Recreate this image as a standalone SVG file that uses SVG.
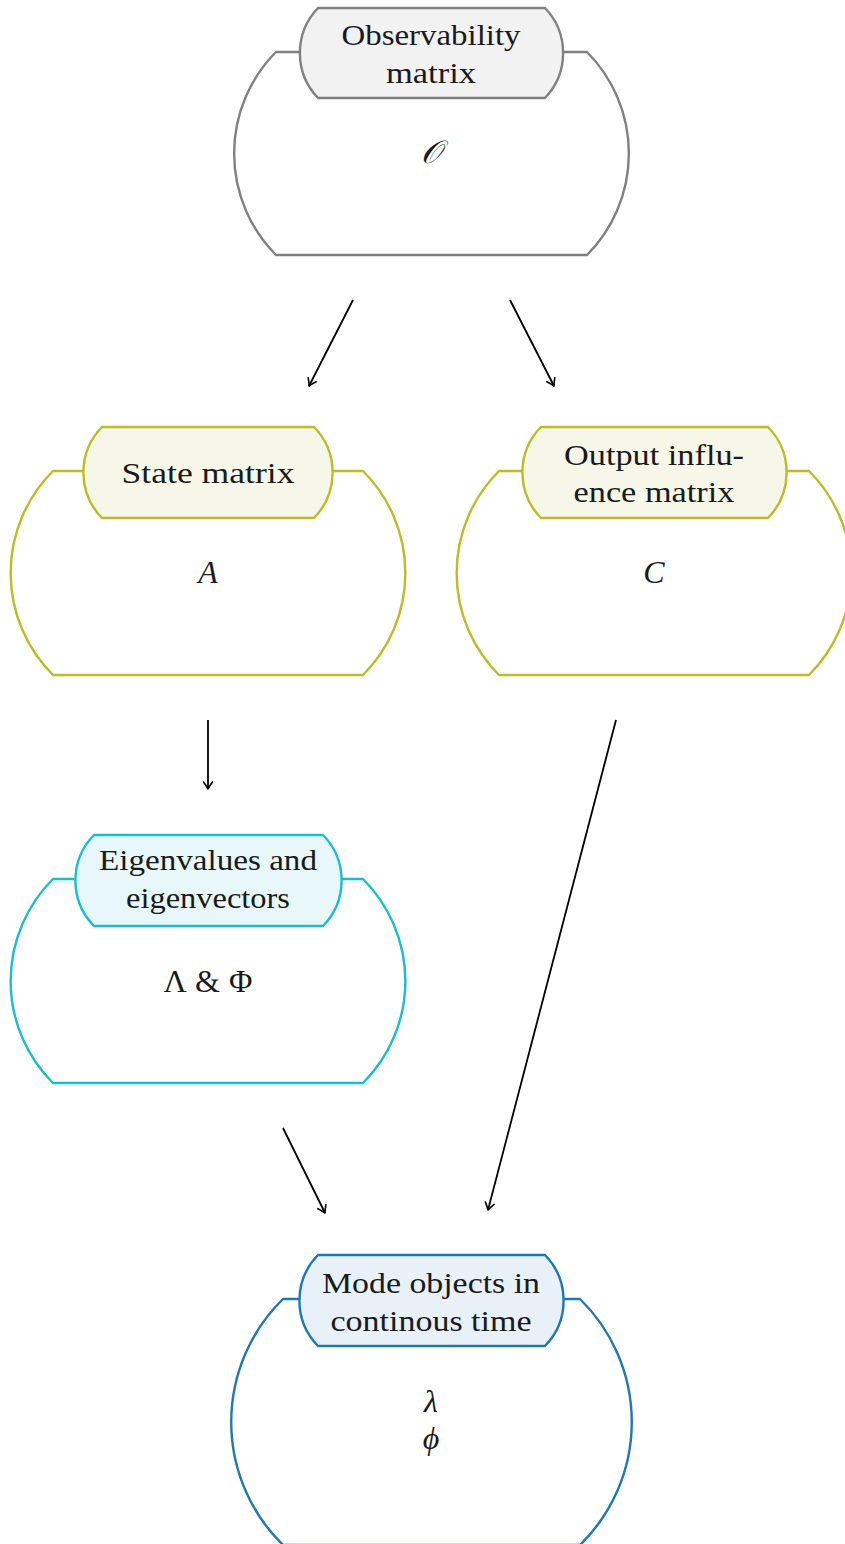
<svg xmlns="http://www.w3.org/2000/svg" width="845" height="1544" viewBox="0 0 845 1544">
  <defs>
    <marker id="arrow" viewBox="-8 -6 10 12" refX="0" refY="0" markerWidth="10" markerHeight="12" markerUnits="userSpaceOnUse" orient="auto">
      <path d="M -7 -4.5 Q -2.5 -1.2 0 0 Q -2.5 1.2 -7 4.5" fill="none" stroke="#000" stroke-width="1.6" stroke-linecap="round" stroke-linejoin="round"/>
    </marker>
    <style>
      .body { fill: #ffffff; stroke-width: 2.4; }
      .tab { stroke-width: 2.4; }
      .gray { stroke: #808080; }
      .olive { stroke: #bcbd22; }
      .cyan { stroke: #17becf; }
      .blue { stroke: #1f77b4; }
      .tab.gray { fill: #f2f2f2; }
      .tab.olive { fill: #f7f7e9; }
      .tab.cyan { fill: #e8f8fa; }
      .tab.blue { fill: #e8f1f8; }
      .head { font-family: "Liberation Serif", "DejaVu Serif", serif; font-size: 30px; fill: #1a1a1a; text-anchor: middle; }
      .math { font-family: "Liberation Serif", "DejaVu Serif", serif; font-size: 32px; font-style: italic; fill: #1a1a1a; text-anchor: middle; }
      .upright { font-style: normal; }
      .edge { fill: none; stroke: #000; stroke-width: 1.8; marker-end: url(#arrow); }
    </style>
  </defs>
  <rect width="845" height="1544" fill="#ffffff"/>

  <!-- Observability matrix -->
  <g id="observability">
    <path class="body gray" d="M 300 52 H 276 A 144 144 0 0 0 276 255 H 587 A 144 144 0 0 0 587 52 H 563"/>
    <path class="tab gray" d="M 318 8 H 545 A 65 65 0 0 1 545 98 H 318 A 65 65 0 0 1 318 8 Z"/>
    <text class="head" x="431" y="45" textLength="179" lengthAdjust="spacingAndGlyphs">Observability</text>
    <text class="head" x="431" y="83" textLength="90" lengthAdjust="spacingAndGlyphs">matrix</text>
    <text class="math" x="431" y="163">𝒪</text>
  </g>

  <!-- State matrix -->
  <g id="state-matrix">
    <path class="body olive" d="M 83 471 H 53 A 144 144 0 0 0 53 675 H 363 A 144 144 0 0 0 363 471 H 333"/>
    <path class="tab olive" d="M 102 427 H 314 A 65 65 0 0 1 314 518 H 102 A 65 65 0 0 1 102 427 Z"/>
    <text class="head" x="208" y="483" textLength="173" lengthAdjust="spacingAndGlyphs">State matrix</text>
    <text class="math" x="208" y="583">A</text>
  </g>

  <!-- Output influence matrix -->
  <g id="output-influence">
    <path class="body olive" d="M 522 471 H 499 A 144 144 0 0 0 499 675 H 809 A 144 144 0 0 0 809 471 H 786"/>
    <path class="tab olive" d="M 541 427 H 768 A 65 65 0 0 1 768 518 H 541 A 65 65 0 0 1 541 427 Z"/>
    <text class="head" x="654" y="465" textLength="180" lengthAdjust="spacingAndGlyphs">Output influ-</text>
    <text class="head" x="654" y="502" textLength="161" lengthAdjust="spacingAndGlyphs">ence matrix</text>
    <text class="math" x="654" y="583">C</text>
  </g>

  <!-- Eigenvalues and eigenvectors -->
  <g id="eigen">
    <path class="body cyan" d="M 74 879 H 53 A 144 144 0 0 0 53 1083 H 363 A 144 144 0 0 0 363 879 H 342"/>
    <path class="tab cyan" d="M 94 835 H 323 A 65 65 0 0 1 323 926 H 94 A 65 65 0 0 1 94 835 Z"/>
    <text class="head" x="208" y="870" textLength="218" lengthAdjust="spacingAndGlyphs">Eigenvalues and</text>
    <text class="head" x="208" y="908" textLength="164" lengthAdjust="spacingAndGlyphs">eigenvectors</text>
    <text class="math upright" x="208" y="992" textLength="89" lengthAdjust="spacing">Λ &amp; Φ</text>
  </g>

  <!-- Mode objects in continuous time -->
  <g id="mode-objects">
    <path class="body blue" d="M 300 1299 H 283 A 172 172 0 0 0 283 1545 H 580 A 172 172 0 0 0 580 1299 H 563"/>
    <path class="tab blue" d="M 318 1255 H 545 A 65 65 0 0 1 545 1346 H 318 A 65 65 0 0 1 318 1255 Z"/>
    <text class="head" x="431" y="1293" textLength="218" lengthAdjust="spacingAndGlyphs">Mode objects in</text>
    <text class="head" x="431" y="1331" textLength="201" lengthAdjust="spacingAndGlyphs">continous time</text>
    <text class="math" x="431" y="1412">λ</text>
    <text class="math" x="431" y="1449">ϕ</text>
  </g>

  <!-- Connectors -->
  <g id="connectors">
    <path class="edge" d="M 353 300 L 309 386"/>
    <path class="edge" d="M 510 300 L 554 386"/>
    <path class="edge" d="M 208 720 L 208 789"/>
    <path class="edge" d="M 616 720 L 488 1210"/>
    <path class="edge" d="M 283 1128 L 325 1213"/>
  </g>
</svg>
